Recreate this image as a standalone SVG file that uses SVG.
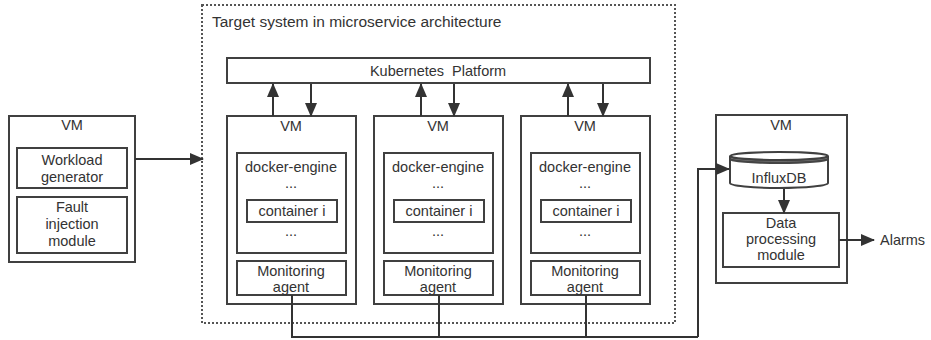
<svg xmlns="http://www.w3.org/2000/svg" width="931" height="340" viewBox="0 0 931 340">
<defs>
<marker id="ah" markerUnits="userSpaceOnUse" markerWidth="14" markerHeight="12" refX="13" refY="6" orient="auto">
<path d="M0,0 L14,6 L0,12 Z" fill="#333"/>
</marker>
<style>
.b{fill:#fff;stroke:#404040;stroke-width:2}
.t{font-family:"Liberation Sans",Arial,sans-serif;font-size:14.5px;fill:#333;text-anchor:middle}
.c{fill:none;stroke:#333;stroke-width:2}
</style>
</defs>
<rect width="931" height="340" fill="#fff"/>
<g id="target-system">
<rect x="202" y="5" width="473" height="318" fill="none" stroke="#555" stroke-width="2" stroke-dasharray="2 2"/>
<text class="t" x="212" y="27" style="text-anchor:start;font-size:15.5px">Target system in microservice architecture</text>
</g>
<g id="vm-left">
<rect class="b" x="9" y="116" width="126" height="146"/>
<text class="t" x="72" y="130">VM</text>
<rect class="b" x="17" y="148" width="110" height="40"/>
<text class="t" x="72" y="165">Workload</text>
<text class="t" x="72" y="182">generator</text>
<rect class="b" x="17" y="197" width="110" height="56"/>
<text class="t" x="72" y="212">Fault</text>
<text class="t" x="72" y="229">injection</text>
<text class="t" x="72" y="246">module</text>
</g>
<g id="kubernetes">
<rect class="b" x="227" y="58" width="423" height="25"/>
<text class="t" x="438" y="76" xml:space="preserve">Kubernetes  Platform</text>
</g>
<g id="vm1">
<rect class="b" x="227" y="116" width="129" height="188"/>
<text class="t" x="291" y="131">VM</text>
<rect class="b" x="237" y="153" width="109" height="100"/>
<text class="t" x="291" y="172">docker-engine</text>
<text class="t" x="291" y="188">...</text>
<rect class="b" x="247" y="200" width="90" height="22"/>
<text class="t" x="292" y="216">container i</text>
<text class="t" x="291" y="236">...</text>
<rect class="b" x="237" y="261" width="109" height="34"/>
<text class="t" x="291" y="276">Monitoring</text>
<text class="t" x="291" y="292">agent</text>
</g>
<g id="vm2">
<rect class="b" x="374" y="116" width="129" height="188"/>
<text class="t" x="438" y="131">VM</text>
<rect class="b" x="384" y="153" width="109" height="100"/>
<text class="t" x="438" y="172">docker-engine</text>
<text class="t" x="438" y="188">...</text>
<rect class="b" x="394" y="200" width="90" height="22"/>
<text class="t" x="439" y="216">container i</text>
<text class="t" x="438" y="236">...</text>
<rect class="b" x="384" y="261" width="109" height="34"/>
<text class="t" x="438" y="276">Monitoring</text>
<text class="t" x="438" y="292">agent</text>
</g>
<g id="vm3">
<rect class="b" x="521" y="116" width="129" height="188"/>
<text class="t" x="585" y="131">VM</text>
<rect class="b" x="531" y="153" width="109" height="100"/>
<text class="t" x="585" y="172">docker-engine</text>
<text class="t" x="585" y="188">...</text>
<rect class="b" x="541" y="200" width="90" height="22"/>
<text class="t" x="586" y="216">container i</text>
<text class="t" x="585" y="236">...</text>
<rect class="b" x="531" y="261" width="109" height="34"/>
<text class="t" x="585" y="276">Monitoring</text>
<text class="t" x="585" y="292">agent</text>
</g>
<g id="vm-right">
<rect class="b" x="716" y="115" width="131" height="168"/>
<text class="t" x="781" y="130">VM</text>
</g>
<g id="influxdb">
<path d="M730,156 L730,183 A49,5 0 0 0 828,183 L828,156" fill="#fff" stroke="#404040" stroke-width="2"/>
<path d="M730,156 A49,4 0 0 0 828,156 L828,160 A49,4 0 0 1 730,160 Z" fill="#444"/>
<path d="M731,158 A49,4 0 0 0 827,158" fill="none" stroke="#888" stroke-width="0.8"/>
<ellipse cx="779" cy="156" rx="49" ry="4" fill="#fff" stroke="#404040" stroke-width="2"/>
<text class="t" x="779" y="183">InfluxDB</text>
</g>
<g id="data-processing">
<rect class="b" x="723" y="213" width="116" height="54"/>
<text class="t" x="781" y="228">Data</text>
<text class="t" x="781" y="244">processing</text>
<text class="t" x="781" y="260">module</text>
</g>
<g id="alarms">
<text class="t" x="880" y="245" style="text-anchor:start">Alarms</text>
</g>
<g id="connectors">
<line class="c" x1="135" y1="159" x2="203" y2="159" marker-end="url(#ah)"/>
<line class="c" x1="273" y1="116" x2="273" y2="84" marker-end="url(#ah)"/>
<line class="c" x1="311" y1="84" x2="311" y2="116" marker-end="url(#ah)"/>
<line class="c" x1="421" y1="116" x2="421" y2="84" marker-end="url(#ah)"/>
<line class="c" x1="454" y1="84" x2="454" y2="116" marker-end="url(#ah)"/>
<line class="c" x1="568" y1="116" x2="568" y2="84" marker-end="url(#ah)"/>
<line class="c" x1="603" y1="84" x2="603" y2="116" marker-end="url(#ah)"/>
<polyline class="c" points="292,295 292,337 698,337"/>
<line class="c" x1="439" y1="295" x2="439" y2="337"/>
<line class="c" x1="586" y1="295" x2="586" y2="337"/>
<polyline class="c" points="698,337 698,169 729,169" marker-end="url(#ah)"/>
<line class="c" x1="784" y1="189" x2="784" y2="213" marker-end="url(#ah)"/>
<line class="c" x1="839" y1="240" x2="874" y2="240" marker-end="url(#ah)"/>
</g>
</svg>
